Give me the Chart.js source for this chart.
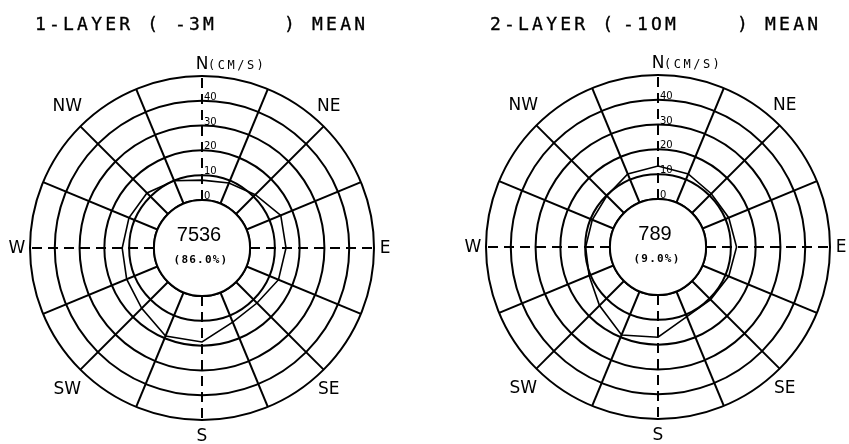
<!DOCTYPE html>
<html>
<head>
<meta charset="utf-8">
<script src="https://cdn.jsdelivr.net/npm/chart.js@4.4.1/dist/chart.umd.min.js"></script>
<style>
  html, body { margin: 0; padding: 0; background: #fff; }
  #pagina { position: relative; width: 849px; height: 444px; overflow: hidden; }
  .panel { position: absolute; top: 0; height: 444px; }
  #panel1 { left: 0; width: 424px; }
  #panel2 { left: 424px; width: 425px; }
  .titulo { position: absolute; top: 12.5px; font-family: "DejaVu Sans Mono", monospace; font-size: 18px;
            letter-spacing: 3.2px; line-height: 22px; color: #000; white-space: pre;
            -webkit-text-stroke: 0.35px #000; }
</style>
</head>
<body>
<div id="pagina">
  <div class="panel" id="panel1"><canvas id="rosa1" width="424" height="444"></canvas></div>
  <div class="panel" id="panel2"><canvas id="rosa2" width="425" height="444"></canvas></div>
  <div class="titulo" style="left:35px">1-LAYER (</div>
  <div class="titulo" style="left:175px">-3M</div>
  <div class="titulo" style="left:284px">) MEAN</div>
  <div class="titulo" style="left:490px">2-LAYER (</div>
  <div class="titulo" style="left:623px">-1OM</div>
  <div class="titulo" style="left:737px">) MEAN</div>
</div>
<script>
// =============================================
//           DATOS DE LAS ROSAS DE CORRIENTE
// =============================================
const direcciones = ["N", "NNE", "NE", "ENE", "E", "ESE", "SE", "SSE",
                     "S", "SSW", "SW", "WSW", "W", "WNW", "NW", "NNW"];
const etiquetasRumbo = ["N", "NE", "E", "SE", "S", "SW", "W", "NW"];
const anillos = [0, 10, 20, 30, 40, 50];       // circulos de la malla (cm/s)
const etiquetasVelocidad = [0, 10, 20, 30, 40]; // textos sobre el eje N

// velocidad media por direccion (cm/s)
const velocidadCapa1 = [8, 9, 11, 15, 14.5, 14, 12, 13, 18.5, 19, 15, 13.5, 12.8, 12.5, 12, 10];
const velocidadCapa2 = [13.3, 12.5, 11, 11.5, 12.3, 11.5, 10.6, 11, 17, 19, 14, 10.7, 9.8, 9.3, 9.8, 12.5];

const cuentaCapa1 = "7536", porcentajeCapa1 = "(86.0%)";
const cuentaCapa2 = "789",  porcentajeCapa2 = "(9.0%)";

const VEL_MIN = -19.4; // hueco central
const VEL_MAX = 50;

/////////////////**PLUGIN: CIRCULO CENTRAL, TEXTOS DE ESCALA Y RUMBOS*/////////////////
const pluginRosa = {
    id: "rosa",
    beforeDatasetsDraw(chart, args, opts) {
        const s = chart.scales.r;
        const ctx = chart.ctx;
        const r0 = s.getDistanceFromCenterForValue(0);
        ctx.save();
        ctx.beginPath();
        ctx.arc(s.xCenter, s.yCenter, r0, 0, Math.PI * 2);
        ctx.fillStyle = "#fff";
        ctx.fill();
        ctx.lineWidth = 2;
        ctx.strokeStyle = "#000";
        ctx.stroke();

        ctx.fillStyle = "#000";
        ctx.textAlign = "center";
        ctx.textBaseline = "middle";
        ctx.font = '20px "Liberation Sans"';
        ctx.fillText(opts.cuenta, s.xCenter - 3, s.yCenter - 13);
        ctx.font = 'bold 11px "DejaVu Sans Mono"';
        ctx.letterSpacing = "1.2px";
        ctx.fillText(opts.porcentaje, s.xCenter - 1, s.yCenter + 12);
        ctx.restore();
    },
    afterDraw(chart) {
        const s = chart.scales.r;
        const ctx = chart.ctx;
        ctx.save();
        ctx.fillStyle = "#000";

        // valores de velocidad junto al eje N
        ctx.font = '10px "DejaVu Sans"';
        ctx.textAlign = "left";
        ctx.textBaseline = "alphabetic";
        etiquetasVelocidad.forEach(v => {
            const y = s.yCenter - s.getDistanceFromCenterForValue(v);
            ctx.fillText(String(v), s.xCenter + 2, y - 1);
        });

        // rumbos
        ctx.font = '17px "DejaVu Sans"';
        ctx.textAlign = "center";
        ctx.textBaseline = "middle";
        etiquetasRumbo.forEach((txt, k) => {
            const diagonal = k % 2 === 1;
            const pos = s.getPointPosition(k * 2, s.drawingArea + 13);
            let x = pos.x, y = pos.y;
            if (diagonal) {
                x -= 4;
                y += (y < s.yCenter ? -11 : 11);
            }
            if (txt === "N") {
                ctx.fillText("N", x, y + 2);
                ctx.save();
                ctx.font = '12px "DejaVu Sans Mono"';
                ctx.letterSpacing = "2.5px";
                ctx.textAlign = "left";
                ctx.fillText("(CM/S)", x + 6, y + 3);
                ctx.restore();
            } else if (txt === "S") {
                ctx.fillText(txt, x, y + 4);
            } else if (txt === "E") {
                ctx.fillText(txt, x - 2, y + 1);
            } else if (txt === "W") {
                ctx.fillText(txt, x, y + 1);
            } else {
                ctx.fillText(txt, x, y);
            }
        });
        ctx.restore();
    }
};

/////////////////**CONFIGURACION DE UNA ROSA*/////////////////
function crearRosa(idCanvas, velocidades, cuenta, porcentaje, relleno) {
    const ctx = document.getElementById(idCanvas).getContext("2d");
    return new Chart(ctx, {
        type: "radar",
        data: {
            labels: direcciones,
            datasets: [{
                data: velocidades,
                borderColor: "#000",
                borderWidth: 1.6,
                fill: false,
                pointRadius: 0,
                pointHoverRadius: 0,
                tension: 0
            }]
        },
        options: {
            responsive: false,
            animation: false,
            events: [],
            layout: { padding: relleno },
            plugins: {
                legend: { display: false },
                tooltip: { enabled: false },
                rosa: { cuenta: cuenta, porcentaje: porcentaje }
            },
            scales: {
                r: {
                    min: VEL_MIN,
                    max: VEL_MAX,
                    afterBuildTicks: escala => {
                        escala.ticks = anillos.map(v => ({ value: v }));
                    },
                    ticks: { display: false },
                    pointLabels: { display: false },
                    grid: { circular: true, color: "#000", lineWidth: 2 },
                    angleLines: {
                        display: true,
                        color: "#000",
                        lineWidth: 2,
                        // ejes N-S / E-W discontinuos
                        borderDash: c => (c.index % 4 === 0 ? [10, 6] : [])
                    }
                }
            }
        },
        plugins: [pluginRosa]
    });
}

crearRosa("rosa1", velocidadCapa1, cuentaCapa1, porcentajeCapa1, { left: 30, top: 76, right: 50, bottom: 24 });
crearRosa("rosa2", velocidadCapa2, cuentaCapa2, porcentajeCapa2, { left: 62, top: 75, right: 19, bottom: 25 });
</script>
</body>
</html>
